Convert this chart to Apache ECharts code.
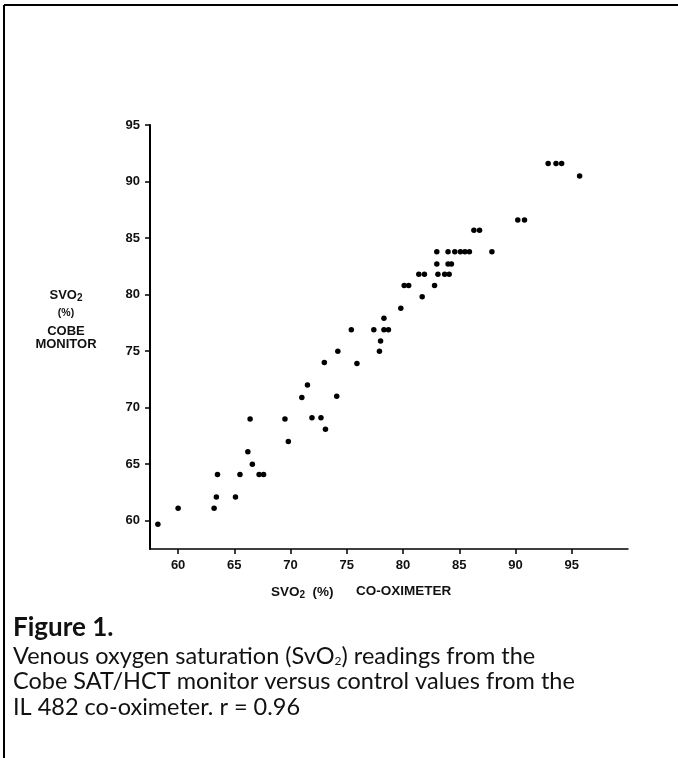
<!DOCTYPE html>
<html>
<head>
<meta charset="utf-8">
<script src="https://cdn.jsdelivr.net/npm/echarts@6/dist/echarts.min.js"></script>
<style>
html,body{margin:0;padding:0;background:#fff;}
#chart{width:678px;height:758px;}
</style>
</head>
<body>
<div id="chart"></div>
<script>
// Co-oximeter SvO2 (x) vs Cobe monitor SvO2 (y)
var coOximeter = [58.2,60.0,63.2,63.4,63.5,65.1,65.5,66.2,66.6,67.2,67.6,66.4,69.5,69.8,71.9,72.7,73.1,71.0,71.5,74.1,73.0,74.2,75.9,75.4,77.9,78.0,77.4,78.3,78.7,78.3,79.8,81.7,80.1,80.5,82.8,81.4,81.9,83.1,83.7,84.1,83.0,84.0,84.3,83.0,84.0,84.6,85.1,85.5,85.9,87.9,86.3,86.8,90.2,90.8,92.9,93.6,94.1,95.7];
var cobeMonitor = [59.7,61.1,61.1,62.1,64.1,62.1,64.1,66.1,65.0,64.1,64.1,69.0,69.0,67.0,69.1,69.1,68.1,70.9,72.0,71.0,74.0,75.0,73.9,76.9,75.0,75.9,76.9,76.9,76.9,77.9,78.8,79.8,80.8,80.8,80.8,81.8,81.8,81.8,81.8,81.8,82.7,82.7,82.7,83.8,83.8,83.8,83.8,83.8,83.8,83.8,85.7,85.7,86.6,86.6,91.6,91.6,91.6,90.5];
var xTicks = [60,65,70,75,80,85,90,95];
var yTicks = [60,65,70,75,80,85,90,95];
var captionLines = [
  'Venous oxygen saturation (SvO{sub|2}) readings from the',
  'Cobe SAT/HCT monitor versus control values from the',
  'IL 482 co-oximeter. r = 0.96'
];

var points = coOximeter.map(function (x, i) { return [x, cobeMonitor[i]]; });

var axisFont = 'Liberation Sans, Arial, sans-serif';
var capFont = 'Lato, "Open Sans", sans-serif';

var chart = echarts.init(document.getElementById('chart'), null, {renderer: 'canvas'});

var graphics = [
  {type: 'line', shape: {x1: 4, y1: 5, x2: 678, y2: 5}, style: {stroke: '#000', lineWidth: 2}},
  {type: 'line', shape: {x1: 4, y1: 5, x2: 4, y2: 758}, style: {stroke: '#000', lineWidth: 2}},
  {type: 'text', x: 13, y: 628, style: {text: 'Figure 1.', font: 'bold 26px ' + capFont, fill: '#111', verticalAlign: 'middle'}}
];
captionLines.forEach(function (t, i) {
  graphics.push({
    type: 'text', x: 13, y: 656 + i * 25.5,
    style: {
      text: t, font: '23.5px ' + capFont, fill: '#111', verticalAlign: 'middle',
      rich: {sub: {fontSize: 12, fontFamily: capFont, padding: [11, 0, 0, 0], fill: '#111'}}
    }
  });
});
// Y axis title block
var yTitle = [
  {t: 'SVO{s|2}', y: 287, fs: 13},
  {t: '(%)', y: 308, fs: 10.5},
  {t: 'COBE', y: 325, fs: 13},
  {t: 'MONITOR', y: 338, fs: 13}
];
yTitle.forEach(function (o) {
  graphics.push({
    type: 'text', x: 66, y: o.y,
    style: {
      text: o.t, fontFamily: axisFont, fontWeight: 'bold', fontSize: o.fs, fill: '#111',
      align: 'center', verticalAlign: 'top',
      rich: {s: {fontFamily: axisFont, fontWeight: 'bold', fontSize: 10, padding: [6, 0, 0, 0], fill: '#111'}}
    }
  });
});
graphics.push({
  type: 'text', x: 271, y: 584,
  style: {
    text: 'SVO{s|2}  (%)', fontFamily: axisFont, fontWeight: 'bold', fontSize: 13.5, fill: '#111',
    align: 'left', verticalAlign: 'top',
    rich: {s: {fontFamily: axisFont, fontWeight: 'bold', fontSize: 10, padding: [6, 0, 0, 0], fill: '#111'}}
  }
});
graphics.push({
  type: 'text', x: 356, y: 584,
  style: {
    text: 'CO-OXIMETER', fontFamily: axisFont, fontWeight: 'bold', fontSize: 13.5, fill: '#111',
    align: 'left', verticalAlign: 'top'
  }
});

chart.setOption({
  animation: false,
  backgroundColor: '#fff',
  grid: {left: 150, right: 50, top: 125, bottom: 209, containLabel: false},
  xAxis: {
    type: 'value', min: 57.5, max: 100,
    axisLine: {show: true, onZero: false, lineStyle: {color: '#000', width: 1.5}},
    axisTick: {show: true, customValues: xTicks, length: 5, inside: false, lineStyle: {color: '#000', width: 1.5}},
    axisLabel: {customValues: xTicks, margin: 10, color: '#111', fontFamily: axisFont, fontWeight: 'bold', fontSize: 13},
    splitLine: {show: false}
  },
  yAxis: {
    type: 'value', min: 57.5, max: 95,
    axisLine: {show: true, onZero: false, lineStyle: {color: '#000', width: 2}},
    axisTick: {show: true, customValues: yTicks, length: 5, inside: false, lineStyle: {color: '#000', width: 1.5}},
    axisLabel: {customValues: yTicks, margin: 10, color: '#111', fontFamily: axisFont, fontWeight: 'bold', fontSize: 13},
    splitLine: {show: false}
  },
  series: [{
    type: 'scatter',
    data: points,
    symbol: 'circle',
    symbolSize: 5.5,
    itemStyle: {color: '#000', opacity: 1}
  }],
  graphic: graphics
});
</script>
</body>
</html>
